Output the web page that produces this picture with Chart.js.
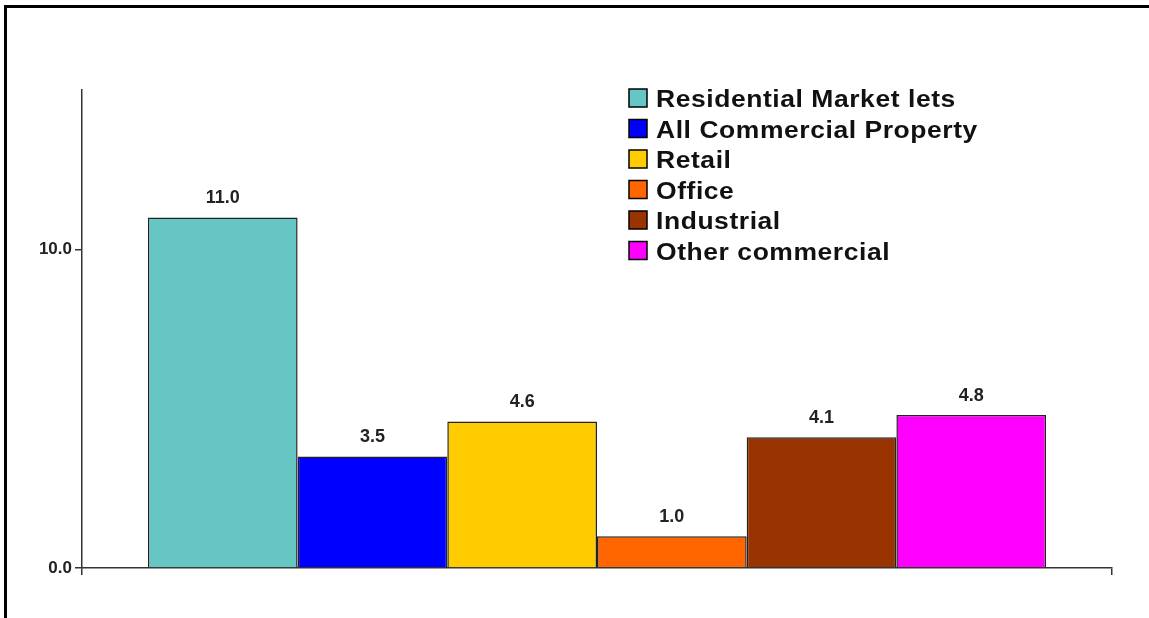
<!DOCTYPE html>
<html>
<head>
<meta charset="utf-8">
<script src="https://cdn.jsdelivr.net/npm/chart.js@4/dist/chart.umd.min.js"></script>
<style>
  html, body { margin: 0; padding: 0; background: #fff; overflow: hidden; }
  #wrap { position: relative; width: 1149px; height: 618px; }
  #frame { position: absolute; left: 4px; top: 5px; width: 1200px; height: 700px; border: 3px solid #000; border-right: none; border-bottom: none; box-sizing: border-box; }
  #chart { position: absolute; left: 0; top: 0; }
</style>
</head>
<body>
<div id="wrap">
  <div id="frame"></div>
  <canvas id="chart" width="1149" height="618"></canvas>
</div>
<script>
// data
const categories = [""];
const seriesNames = ["Residential Market lets", "All Commercial Property", "Retail", "Office", "Industrial", "Other commercial"];
const seriesValues = [11.0, 3.5, 4.6, 1.0, 4.1, 4.8];
const seriesColors = ["#66C6C4", "#0000FF", "#FFCC00", "#FF6600", "#993300", "#FF00FF"];
const yTicks = [0, 10];

const font = "'Liberation Sans', Arial, sans-serif";

// value labels above each bar
const valueLabels = {
  id: "valueLabels",
  afterDatasetsDraw(chart) {
    const ctx = chart.ctx;
    ctx.save();
    ctx.font = "bold 18px " + font;
    ctx.fillStyle = "#222";
    ctx.textAlign = "center";
    ctx.textBaseline = "alphabetic";
    chart.data.datasets.forEach((ds, i) => {
      chart.getDatasetMeta(i).data.forEach((bar, j) => {
        ctx.fillText(ds.data[j].toFixed(1), bar.x, bar.y - 14);
      });
    });
    ctx.restore();
  }
};

// legend drawn inside the plot, top right
const insideLegend = {
  id: "insideLegend",
  afterDraw(chart) {
    const ctx = chart.ctx;
    ctx.save();
    chart.data.datasets.forEach((ds, i) => {
      const x = 629, y = 89 + i * 30.5;
      ctx.fillStyle = ds.backgroundColor;
      ctx.fillRect(x, y, 18, 18);
      ctx.strokeStyle = "#000";
      ctx.lineWidth = 1.5;
      ctx.strokeRect(x, y, 18, 18);
      // text is a bit wider than plain Arial in the original
      ctx.save();
      ctx.translate(656, y + 18);
      ctx.scale(1.15, 1);
      ctx.font = "bold 23px " + font;
      ctx.letterSpacing = "0.5px";
      ctx.fillStyle = "#111";
      ctx.fillText(ds.label, 0, 0);
      ctx.restore();
    });
    ctx.restore();
  }
};

new Chart(document.getElementById("chart").getContext("2d"), {
  type: "bar",
  data: {
    labels: categories,
    datasets: seriesNames.map((name, i) => ({
      label: name,
      data: [seriesValues[i]],
      backgroundColor: seriesColors[i],
      borderColor: "#222",
      borderWidth: 1.5,
      barPercentage: 1,
      categoryPercentage: 0.872
    }))
  },
  options: {
    responsive: false,
    animation: false,
    layout: { padding: { top: 90, right: 37, left: 0, bottom: 0 } },
    plugins: {
      legend: { display: false },
      tooltip: { enabled: false }
    },
    scales: {
      x: {
        offset: true,
        ticks: { display: false },
        grid: { drawOnChartArea: false, tickLength: 7, color: "#333", lineWidth: 1.5, offset: true },
        border: { color: "#333", width: 1.5 },
        afterFit: s => { s.height = 50; }
      },
      y: {
        min: 0,
        max: 15,
        afterBuildTicks: s => { s.ticks = yTicks.map(v => ({ value: v })); },
        ticks: {
          callback: v => v.toFixed(1),
          font: { family: font, weight: "bold", size: 17 },
          color: "#222",
          padding: 3
        },
        grid: { drawOnChartArea: false, tickLength: 7, color: "#333", lineWidth: 1.5 },
        border: { color: "#333", width: 1.5 },
        afterFit: s => { s.width = 82; }
      }
    }
  },
  plugins: [valueLabels, insideLegend]
});
</script>
</body>
</html>
